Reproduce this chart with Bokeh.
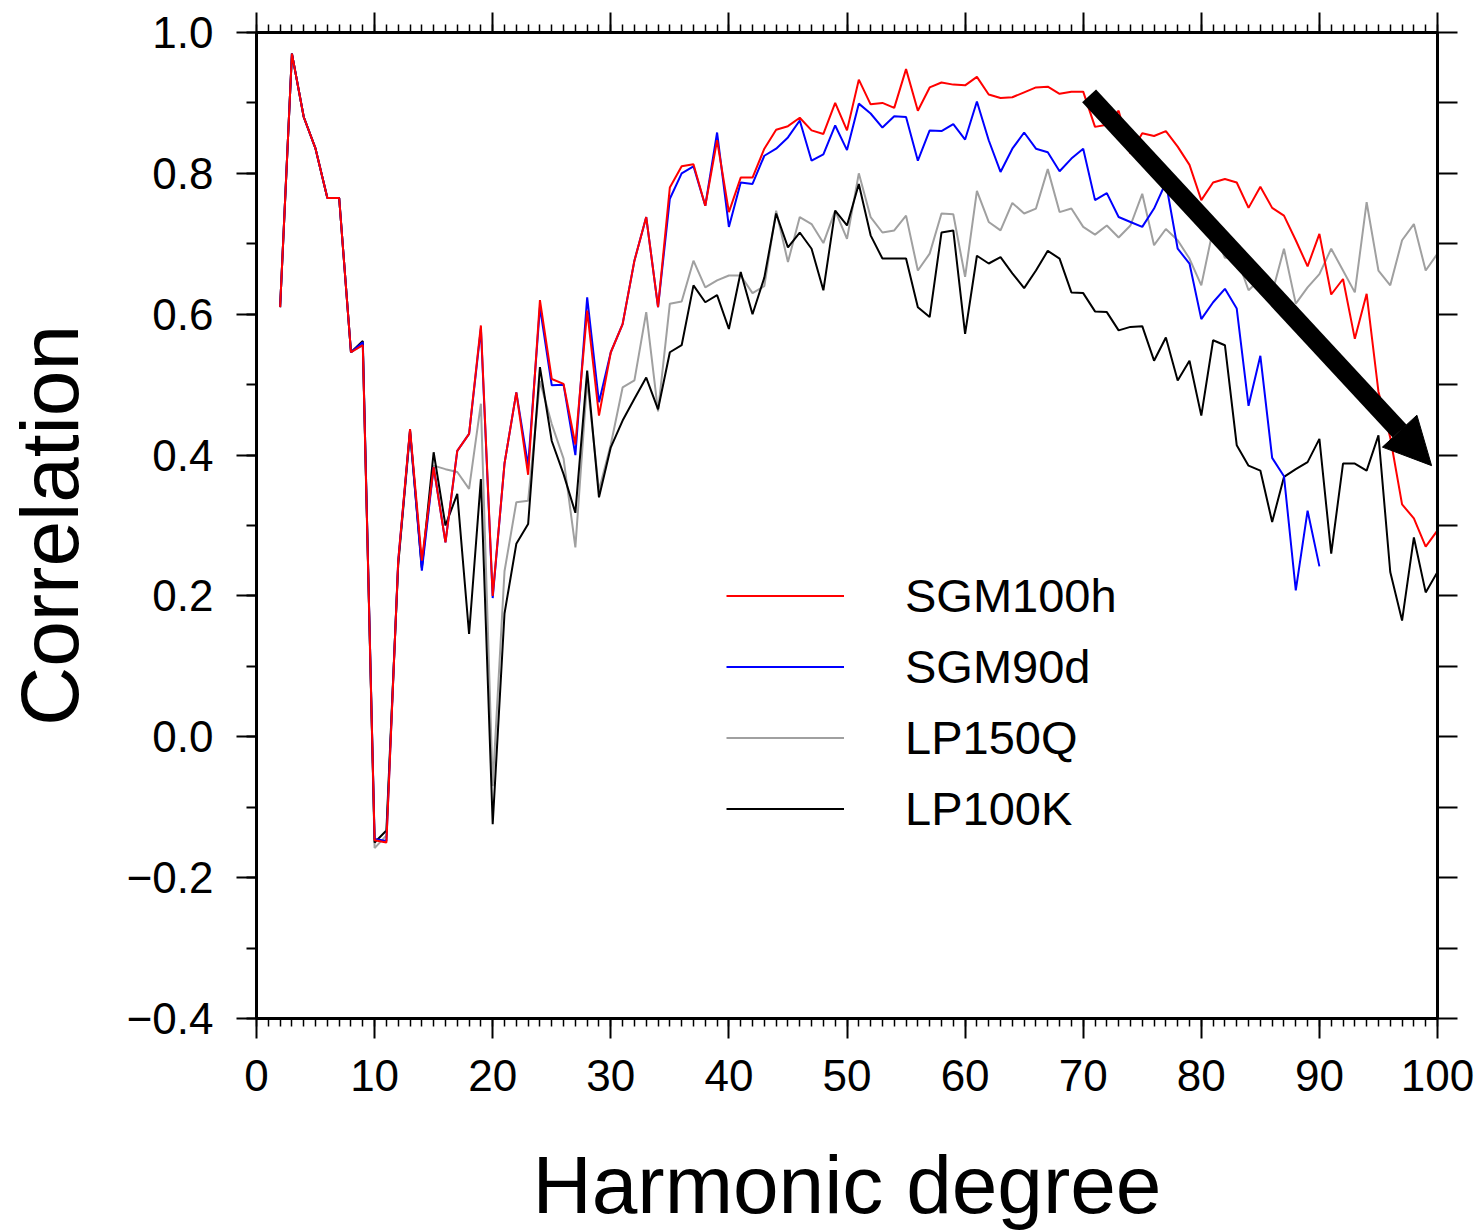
from bokeh.plotting import figure
from bokeh.models import (Range1d, LinearAxis, SingleIntervalTicker, CustomJSTickFormatter,
                          Legend, LegendItem, Arrow, NormalHead)
from bokeh.embed import file_html
from bokeh.resources import INLINE

degree = list(range(2, 101))

sgm100h = [0.61, 0.97, 0.88, 0.835, 0.765, 0.765, 0.546, 0.556, -0.147, -0.15,
           0.25, 0.437, 0.25, 0.383, 0.276, 0.406, 0.43, 0.584, 0.2, 0.388,
           0.489, 0.372, 0.62, 0.508, 0.501, 0.415, 0.605, 0.456, 0.546, 0.586,
           0.676, 0.738, 0.61, 0.78, 0.81, 0.813, 0.754, 0.847, 0.745, 0.794,
           0.794, 0.835, 0.862, 0.867, 0.879, 0.861, 0.856, 0.9, 0.861, 0.933,
           0.898, 0.9, 0.893, 0.948, 0.889, 0.922, 0.929, 0.926, 0.925, 0.937,
           0.912, 0.907, 0.908, 0.915, 0.922, 0.923, 0.913, 0.916, 0.916, 0.866,
           0.869, 0.889, 0.828, 0.857, 0.853, 0.86, 0.838, 0.812, 0.762, 0.787,
           0.792, 0.787, 0.751, 0.781, 0.751, 0.74, 0.705, 0.668, 0.714, 0.628,
           0.65, 0.565, 0.629, 0.49, 0.425, 0.33, 0.31, 0.27, 0.293]

sgm90d = [0.61, 0.97, 0.88, 0.835, 0.765, 0.765, 0.546, 0.56, -0.145, -0.148,
          0.25, 0.435, 0.236, 0.383, 0.276, 0.406, 0.43, 0.58, 0.197, 0.388,
          0.489, 0.385, 0.61, 0.499, 0.50, 0.40, 0.624, 0.475, 0.546, 0.586,
          0.676, 0.738, 0.61, 0.764, 0.80, 0.81, 0.754, 0.858, 0.724, 0.787,
          0.785, 0.825, 0.835, 0.851, 0.875, 0.818, 0.827, 0.868, 0.833, 0.899,
          0.885, 0.865, 0.881, 0.88, 0.818, 0.861, 0.86, 0.87, 0.848, 0.902,
          0.847, 0.802, 0.835, 0.858, 0.835, 0.83, 0.803, 0.821, 0.835, 0.762,
          0.772, 0.738, 0.731, 0.724, 0.75, 0.787, 0.693, 0.672, 0.593, 0.617,
          0.636, 0.608, 0.47, 0.541, 0.396, 0.37, 0.208, 0.321, 0.242]

lp150q = [0.61, 0.97, 0.88, 0.835, 0.765, 0.765, 0.546, 0.556, -0.158, -0.14,
          0.245, 0.43, 0.24, 0.385, 0.38, 0.376, 0.352, 0.473, -0.07, 0.235,
          0.333, 0.335, 0.505, 0.444, 0.395, 0.269, 0.506, 0.35, 0.415, 0.496,
          0.506, 0.603, 0.462, 0.615, 0.618, 0.676, 0.638, 0.648, 0.655, 0.655,
          0.63, 0.64, 0.747, 0.674, 0.738, 0.728, 0.701, 0.747, 0.707, 0.80,
          0.738, 0.716, 0.719, 0.74, 0.662, 0.686, 0.743, 0.742, 0.653, 0.775,
          0.731, 0.719, 0.758, 0.743, 0.75, 0.806, 0.745, 0.75, 0.724, 0.713,
          0.726, 0.709, 0.726, 0.771, 0.698, 0.721, 0.705, 0.679, 0.641, 0.721,
          0.68, 0.681, 0.634, 0.65, 0.63, 0.693, 0.615, 0.638, 0.657, 0.693,
          0.662, 0.631, 0.759, 0.662, 0.641, 0.705, 0.728, 0.662, 0.686]

lp100k = [0.61, 0.97, 0.88, 0.835, 0.765, 0.765, 0.546, 0.562, -0.15, -0.133,
          0.245, 0.435, 0.24, 0.404, 0.30, 0.345, 0.146, 0.366, -0.124, 0.175,
          0.274, 0.302, 0.525, 0.42, 0.373, 0.318, 0.52, 0.34, 0.411, 0.449,
          0.48, 0.51, 0.465, 0.546, 0.556, 0.641, 0.617, 0.627, 0.579, 0.66,
          0.60, 0.652, 0.743, 0.695, 0.716, 0.693, 0.634, 0.747, 0.726, 0.785,
          0.712, 0.679, 0.679, 0.679, 0.61, 0.596, 0.716, 0.719, 0.572, 0.683,
          0.672, 0.681, 0.658, 0.637, 0.662, 0.69, 0.679, 0.631, 0.63, 0.604,
          0.603, 0.577, 0.582, 0.583, 0.534, 0.567, 0.506, 0.534, 0.456, 0.563,
          0.556, 0.414, 0.385, 0.378, 0.305, 0.369, 0.38, 0.39, 0.423, 0.26,
          0.388, 0.388, 0.378, 0.428, 0.234, 0.165, 0.283, 0.205, 0.234]

series_names = ["SGM100h", "SGM90d", "LP150Q", "LP100K"]
x_title = "Harmonic degree"
y_title = "Correlation"
trend_arrow = [70.5, 0.91, 99.5, 0.385]  # x_start, y_start, x_end, y_end

FONT = "Liberation Sans"

p = figure(width=1480, height=1232, x_range=Range1d(0, 100), y_range=Range1d(-0.4, 1.0),
           output_backend="svg", toolbar_location=None,
           min_border_left=256, min_border_right=43, min_border_top=32, min_border_bottom=214,
           x_axis_label=x_title, y_axis_label=y_title)
p.grid.visible = False
p.outline_line_color = "black"
p.outline_line_width = 3
p.background_fill_color = "white"
p.border_fill_color = "white"

# bottom axis
xa = p.xaxis[0]
xa.ticker = SingleIntervalTicker(interval=10, num_minor_ticks=10)
xa.major_tick_out = 20
xa.major_tick_in = 0
xa.minor_tick_out = 8
xa.minor_tick_in = 0
xa.major_tick_line_width = 2
xa.minor_tick_line_width = 1.5
xa.axis_line_width = 3
xa.major_label_text_font = FONT
xa.major_label_text_font_size = "44px"
xa.major_label_text_color = "black"
xa.major_label_standoff = 21
xa.axis_label_text_font = FONT
xa.axis_label_text_font_size = "82px"
xa.axis_label_text_font_style = "normal"
xa.axis_label_text_color = "black"
xa.axis_label_standoff = 45

# left axis
ya = p.yaxis[0]
ya.ticker = SingleIntervalTicker(interval=0.2, num_minor_ticks=2)
ya.formatter = CustomJSTickFormatter(code="""
if (Math.abs(tick) < 1e-9) { return "0.0"; }
return (tick < 0 ? "\u2212" : "") + Math.abs(tick).toFixed(1);
""")
ya.major_tick_out = 20
ya.major_tick_in = 0
ya.minor_tick_out = 10
ya.minor_tick_in = 0
ya.major_tick_line_width = 2
ya.minor_tick_line_width = 2
ya.axis_line_width = 3
ya.major_label_text_font = FONT
ya.major_label_text_font_size = "44px"
ya.major_label_text_color = "black"
ya.major_label_standoff = 23
ya.axis_label_text_font = FONT
ya.axis_label_text_font_size = "82px"
ya.axis_label_text_font_style = "normal"
ya.axis_label_text_color = "black"
ya.axis_label_standoff = 29

# top axis (ticks only)
top = LinearAxis(ticker=SingleIntervalTicker(interval=10, num_minor_ticks=10),
                 major_tick_out=20, major_tick_in=0, minor_tick_out=8, minor_tick_in=0,
                 major_tick_line_width=2, minor_tick_line_width=1.5, axis_line_width=3,
                 major_label_text_font_size="1px", major_label_text_color=None,
                 major_label_standoff=0)
p.add_layout(top, "above")

# right axis (ticks only)
right = LinearAxis(ticker=SingleIntervalTicker(interval=0.1, num_minor_ticks=0),
                   major_tick_out=20, major_tick_in=0, minor_tick_out=0, minor_tick_in=0,
                   major_tick_line_width=2, axis_line_width=3,
                   major_label_text_font_size="1px", major_label_text_color=None,
                   major_label_standoff=0)
p.add_layout(right, "right")

r_gray = p.line(degree, lp150q, line_color="#a0a0a0", line_width=2)
r_black = p.line(degree, lp100k, line_color="black", line_width=2)
r_blue = p.line(degree[:len(sgm90d)], sgm90d, line_color="#0000ff", line_width=2)
r_red = p.line(degree, sgm100h, line_color="#ff0000", line_width=2)

legend = Legend(items=[LegendItem(label=series_names[0], renderers=[r_red]),
                       LegendItem(label=series_names[1], renderers=[r_blue]),
                       LegendItem(label=series_names[2], renderers=[r_gray]),
                       LegendItem(label=series_names[3], renderers=[r_black])],
                location=(470, 174.5), glyph_width=118, glyph_height=71, label_height=71,
                label_standoff=61, spacing=0, padding=0, margin=0,
                border_line_color=None, background_fill_alpha=0,
                label_text_font=FONT, label_text_font_size="47px", label_text_color="black")
p.add_layout(legend)

p.add_layout(Arrow(end=NormalHead(size=47, fill_color="black", line_color="black"),
                   x_start=trend_arrow[0], y_start=trend_arrow[1],
                   x_end=trend_arrow[2], y_end=trend_arrow[3],
                   line_width=19, line_color="black"))

open("out.html", "w").write(file_html(p, INLINE))
